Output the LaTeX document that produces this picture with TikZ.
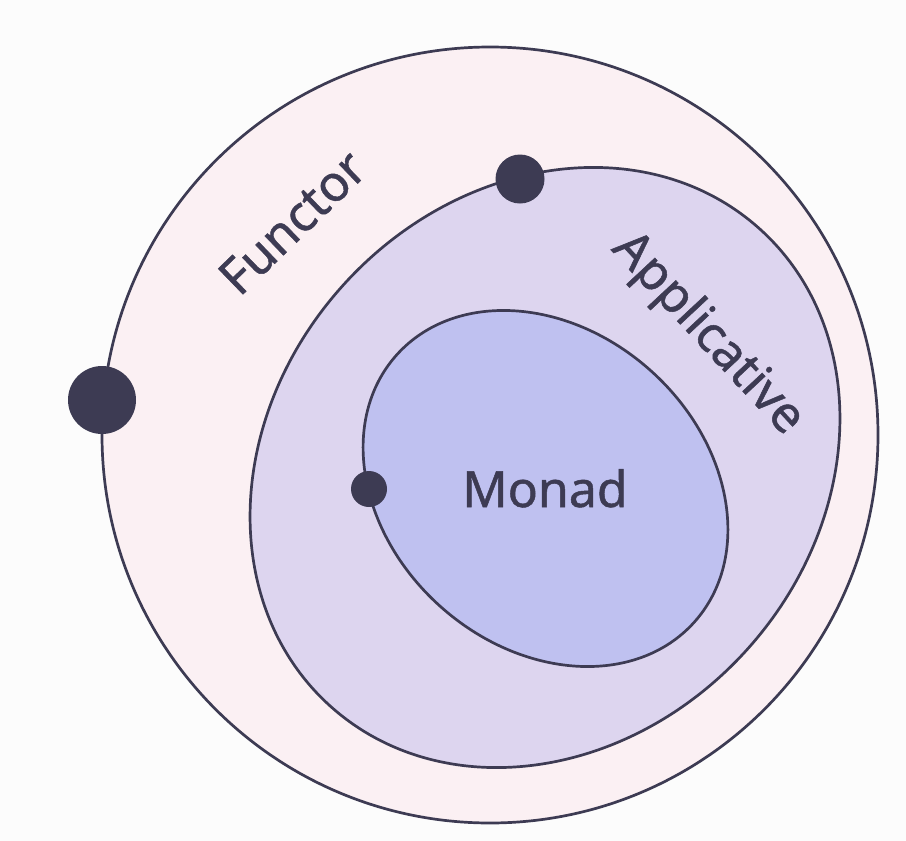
\documentclass[tikz,border=0pt]{standalone}
\usepackage{fontspec}
\setmainfont{Noto Sans}
\newfontfamily\labfont{Noto Sans}[FakeBold=1.0]
\definecolor{bgc}{HTML}{FCFCFC}
\definecolor{inkc}{HTML}{3D3B53}
\definecolor{functorc}{HTML}{FBF0F3}
\definecolor{applic}{HTML}{DDD5EF}
\definecolor{monadc}{HTML}{BFC1F0}
\tikzset{
  ring/.style={draw=inkc, line width=2.7pt},
  blob/.style={circle, fill=inkc, inner sep=0pt},
  lab/.style={text=inkc, inner sep=0pt, text height=36pt, text depth=0pt,
    font=\labfont\fontsize{50}{58}\selectfont},
}
\begin{document}
\begin{tikzpicture}[x=1pt,y=-1pt]
\useasboundingbox[fill=bgc] (0,0) rectangle (906,841);
% Functor
\draw[ring, fill=functorc] (490,435) circle[radius=388];
% Applicative
\draw[ring, fill=applic, shift={(545,467.5)}, rotate=48] (0,0) ellipse[x radius=321, y radius=272];
% Monad
\draw[ring, fill=monadc, shift={(545.5,488.5)}, rotate=-42] (0,0) ellipse[x radius=200, y radius=158];
% dots
\node[blob, minimum size=68pt] (d1) at (102,400) {};
\node[blob, minimum size=49pt] (d2) at (520,179) {};
\node[blob, minimum size=36pt] (d3) at (369,489) {};
% labels
\node[lab, rotate=44] (functor) at (292,222) {Functor};
\node[lab, rotate=-47] (applicative) at (711,331) {Applicative};
\node[lab] (monad) at (545,489) {Monad};
\end{tikzpicture}
\end{document}
